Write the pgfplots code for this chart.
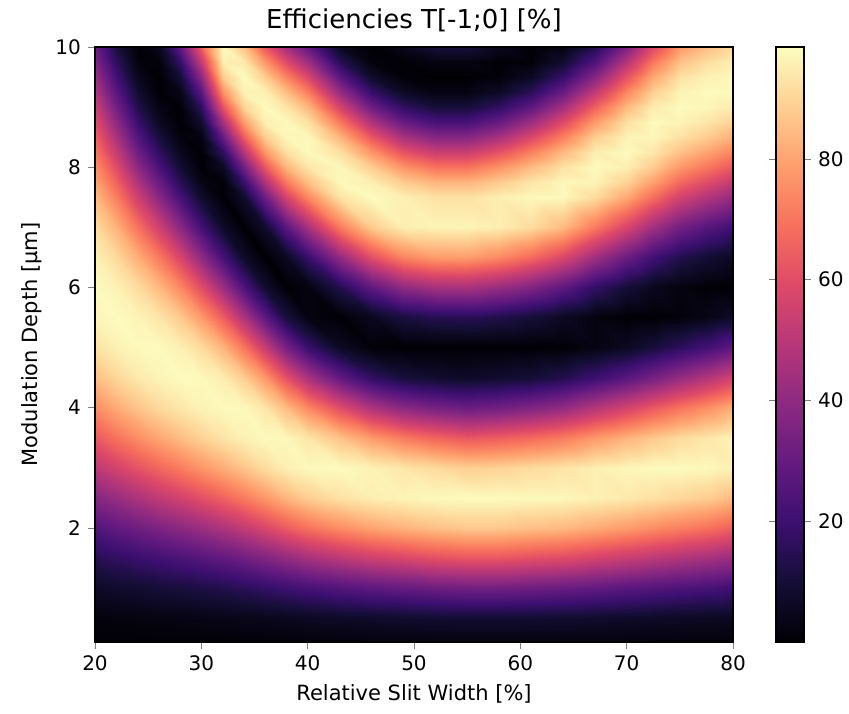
\documentclass[border=0pt]{standalone}
\usepackage{fontspec}
\setmainfont{DejaVu Sans}
\usepackage{pgfplots}
\pgfplotsset{compat=1.18}
\begin{document}
\begin{tikzpicture}
\begin{axis}[
  scale only axis,
  width=319pt, height=297.5pt,
  xmin=20, xmax=80, ymin=0.1, ymax=10,
  xtick={20,30,40,50,60,70,80},
  ytick={2,4,6,8,10},
  tick align=outside,
  tick pos=left,
  major tick length=3.5pt,
  axis on top,
  axis line style={line width=0.6pt},
  /pgf/number format/assume math mode=true,
  tick label style={font=\fontsize{10}{12}\selectfont},
  label style={font=\fontsize{10.5}{12}\selectfont},
  title={Efficiencies T[-1;0] [\%]},
  title style={font=\fontsize{13}{15}\selectfont, yshift=-2pt},
  xlabel={Relative Slit Width [\%]},
  ylabel={Modulation Depth [μm]},
  colormap={magma}{rgb255=(0,0,4) rgb255=(20,14,54) rgb255=(59,15,112) rgb255=(100,26,128) rgb255=(140,41,129) rgb255=(183,55,121) rgb255=(222,73,104) rgb255=(247,112,92) rgb255=(254,159,109) rgb255=(254,207,146) rgb255=(252,253,191)},
  point meta min=0, point meta max=98.5,
  colorbar,
  colorbar style={
    width=14pt,
    at={(parent axis.north east)}, anchor=north west, xshift=13pt,
    ytick={20,40,60,80},
    tick align=outside,
    major tick length=3.5pt,
    axis line style={line width=0.6pt},
    /pgf/number format/assume math mode=true,
    yticklabel style={font=\fontsize{10}{12}\selectfont},
  },
]
\addplot[surf, shader=interp, mesh/cols=25, point meta=explicit] coordinates {
(20,0)[0] (22,0)[0] (24,0)[0] (26,0)[0] (28,0)[0] (30,0)[0] (32,0)[0] (34,0)[0] (36,0)[0] (38,0)[0] (40,0)[0] (43,0)[0] (46,0)[0] (49,0)[0] (52,0)[0] (55,0)[0] (58,0)[0] (61,0)[0] (64,0)[0] (67,0)[0] (70,0)[0] (72.5,0)[0] (75,0)[0] (77.5,0)[0] (80,0)[0]
(20,0.5)[1.8] (22,0.5)[2.0] (24,0.5)[2.3] (26,0.5)[2.6] (28,0.5)[2.8] (30,0.5)[3.3] (32,0.5)[3.6] (34,0.5)[4.2] (36,0.5)[4.6] (38,0.5)[5.3] (40,0.5)[5.9] (43,0.5)[6.9] (46,0.5)[7.6] (49,0.5)[8.2] (52,0.5)[8.8] (55,0.5)[9.1] (58,0.5)[9.1] (61,0.5)[8.8] (64,0.5)[8.5] (67,0.5)[7.9] (70,0.5)[7.3] (72.5,0.5)[6.9] (75,0.5)[6.3] (77.5,0.5)[5.9] (80,0.5)[5.4]
(20,1)[6.9] (22,1)[7.9] (24,1)[8.9] (26,1)[10.0] (28,1)[11.1] (30,1)[12.3] (32,1)[13.7] (34,1)[15.5] (36,1)[17.6] (38,1)[20.0] (40,1)[22.3] (43,1)[25.3] (46,1)[27.8] (49,1)[29.7] (52,1)[31.7] (55,1)[32.8] (58,1)[32.8] (61,1)[31.7] (64,1)[30.6] (67,1)[28.8] (70,1)[26.9] (72.5,1)[25.3] (75,1)[23.8] (77.5,1)[22.3] (80,1)[20.6]
(20,1.5)[14.7] (22,1.5)[16.9] (24,1.5)[19.2] (26,1.5)[21.4] (28,1.5)[23.6] (30,1.5)[26.1] (32,1.5)[29.1] (34,1.5)[32.4] (36,1.5)[36.5] (38,1.5)[40.9] (40,1.5)[45.3] (43,1.5)[50.3] (46,1.5)[54.5] (49,1.5)[57.5] (52,1.5)[60.7] (55,1.5)[62.4] (58,1.5)[62.4] (61,1.5)[60.7] (64,1.5)[59.2] (67,1.5)[56.0] (70,1.5)[53.0] (72.5,1.5)[50.3] (75,1.5)[47.7] (77.5,1.5)[45.3] (80,1.5)[42.0]
(20,2)[25.2] (22,2)[28.8] (24,2)[32.3] (26,2)[35.7] (28,2)[39.0] (30,2)[42.8] (32,2)[47.1] (34,2)[52.0] (36,2)[57.5] (38,2)[63.7] (40,2)[69.2] (43,2)[74.9] (46,2)[79.5] (49,2)[82.6] (52,2)[85.4] (55,2)[87.1] (58,2)[87.1] (61,2)[85.4] (64,2)[84.1] (67,2)[81.1] (70,2)[78.0] (72.5,2)[74.9] (75,2)[71.9] (77.5,2)[69.2] (80,2)[65.0]
(20,2.5)[37.4] (22,2.5)[41.9] (24,2.5)[46.7] (26,2.5)[51.4] (28,2.5)[55.6] (30,2.5)[60.4] (32,2.5)[65.5] (34,2.5)[71.1] (36,2.5)[77.1] (38,2.5)[83.2] (40,2.5)[88.3] (43,2.5)[92.5] (46,2.5)[95.2] (49,2.5)[96.5] (52,2.5)[97.6] (55,2.5)[98.0] (58,2.5)[98.0] (61,2.5)[97.6] (64,2.5)[97.2] (67,2.5)[95.9] (70,2.5)[94.3] (72.5,2.5)[92.5] (75,2.5)[90.2] (77.5,2.5)[88.3] (80,2.5)[84.6]
(20,3)[50.2] (22,3)[56.1] (24,3)[61.5] (26,3)[66.7] (28,3)[71.4] (30,3)[76.6] (32,3)[81.5] (34,3)[86.6] (36,3)[91.4] (38,3)[95.4] (40,3)[97.5] (43,3)[98.0] (46,3)[96.2] (49,3)[93.6] (52,3)[91.2] (55,3)[88.8] (58,3)[89.6] (61,3)[91.4] (64,3)[93.1] (67,3)[95.6] (70,3)[97.1] (72.5,3)[98.0] (75,3)[98.0] (77.5,3)[97.5] (80,3)[95.9]
(20,3.5)[63.2] (22,3.5)[69.2] (24,3.5)[75.1] (26,3.5)[80.3] (28,3.5)[84.7] (30,3.5)[89.0] (32,3.5)[92.9] (34,3.5)[95.9] (36,3.5)[97.7] (38,3.5)[97.3] (40,3.5)[93.6] (43,3.5)[86.1] (46,3.5)[78.1] (49,3.5)[71.4] (52,3.5)[66.6] (55,3.5)[63.0] (58,3.5)[64.7] (61,3.5)[67.7] (64,3.5)[71.5] (67,3.5)[77.8] (70,3.5)[83.1] (72.5,3.5)[87.4] (75,3.5)[91.2] (77.5,3.5)[93.6] (80,3.5)[96.5]
(20,4)[74.9] (22,4)[81.1] (24,4)[86.3] (26,4)[90.7] (28,4)[93.6] (30,4)[96.3] (32,4)[97.7] (34,4)[97.5] (36,4)[93.5] (38,4)[85.0] (40,4)[74.2] (43,4)[59.9] (46,4)[47.4] (49,4)[39.0] (52,4)[34.5] (55,4)[31.2] (58,4)[33.3] (61,4)[36.5] (64,4)[41.1] (67,4)[49.0] (70,4)[56.6] (72.5,4)[63.5] (75,4)[69.9] (77.5,4)[75.4] (80,4)[82.2]
(20,4.5)[84.9] (22,4.5)[90.1] (24,4.5)[94.1] (26,4.5)[96.6] (28,4.5)[97.9] (30,4.5)[97.6] (32,4.5)[95.0] (34,4.5)[88.4] (36,4.5)[77.3] (38,4.5)[61.4] (40,4.5)[46.0] (43,4.5)[29.2] (46,4.5)[17.4] (49,4.5)[11.1] (52,4.5)[8.7] (55,4.5)[7.0] (58,4.5)[8.4] (61,4.5)[10.1] (64,4.5)[13.8] (67,4.5)[20.2] (70,4.5)[27.2] (72.5,4.5)[34.4] (75,4.5)[41.7] (77.5,4.5)[48.1] (80,4.5)[56.3]
(20,5)[92.5] (22,5)[95.9] (24,5)[97.7] (26,5)[97.8] (28,5)[95.8] (30,5)[91.2] (32,5)[82.9] (34,5)[69.8] (36,5)[52.9] (38,5)[33.9] (40,5)[18.8] (43,5)[6.2] (46,5)[1.0] (49,5)[0.0] (52,5)[0.2] (55,5)[0.3] (58,5)[0.1] (61,5)[0.0] (64,5)[0.4] (67,5)[2.4] (70,5)[5.7] (72.5,5)[10.5] (75,5)[15.9] (77.5,5)[21.1] (80,5)[28.0]
(20,5.5)[96.8] (22,5.5)[98.0] (24,5.5)[96.5] (26,5.5)[93.3] (28,5.5)[87.4] (30,5.5)[77.9] (32,5.5)[64.1] (34,5.5)[46.6] (36,5.5)[27.6] (38,5.5)[11.1] (40,5.5)[2.3] (43,5.5)[0.4] (46,5.5)[5.2] (49,5.5)[11.6] (52,5.5)[14.3] (55,5.5)[15.0] (58,5.5)[13.2] (61,5.5)[10.1] (64,5.5)[6.1] (67,5.5)[2.1] (70,5.5)[0.3] (72.5,5.5)[0.1] (75,5.5)[1.4] (77.5,5.5)[3.4] (80,5.5)[6.9]
(20,6)[97.8] (22,6)[96.1] (24,6)[91.2] (26,6)[84.0] (28,6)[73.9] (30,6)[59.9] (32,6)[42.4] (34,6)[23.9] (36,6)[8.3] (38,6)[0.4] (40,6)[2.3] (43,6)[13.8] (46,6)[28.5] (49,6)[40.4] (52,6)[45.5] (55,6)[46.2] (58,6)[42.3] (61,6)[36.5] (64,6)[28.2] (67,6)[17.6] (70,6)[10.0] (72.5,6)[5.0] (75,6)[2.0] (77.5,6)[0.7] (80,6)[0.1]
(20,6.5)[95.9] (22,6.5)[90.9] (24,6.5)[81.7] (26,6.5)[70.6] (28,6.5)[57.2] (30,6.5)[40.0] (32,6.5)[22.0] (34,6.5)[7.0] (36,6.5)[0.1] (38,6.5)[5.7] (40,6.5)[18.8] (43,6.5)[41.1] (46,6.5)[60.4] (49,6.5)[73.4] (52,6.5)[78.3] (55,6.5)[78.6] (58,6.5)[74.4] (61,6.5)[67.7] (64,6.5)[58.2] (67,6.5)[43.8] (70,6.5)[31.0] (72.5,6.5)[21.0] (75,6.5)[13.6] (77.5,6.5)[9.5] (80,6.5)[6.0]
(20,7)[91.4] (22,7)[82.7] (24,7)[69.0] (26,7)[54.9] (28,7)[39.0] (30,7)[21.7] (32,7)[7.0] (34,7)[0.1] (36,7)[8.0] (38,7)[27.2] (40,7)[46.0] (43,7)[71.5] (46,7)[87.9] (49,7)[95.3] (52,7)[96.5] (55,7)[96.6] (58,7)[95.3] (61,7)[91.4] (64,7)[84.6] (67,7)[71.0] (70,7)[57.0] (72.5,7)[44.0] (75,7)[33.0] (77.5,7)[26.7] (80,7)[20.7]
(20,7.5)[84.5] (22,7.5)[71.9] (24,7.5)[54.4] (26,7.5)[38.3] (28,7.5)[22.4] (30,7.5)[7.9] (32,7.5)[0.3] (34,7.5)[8.4] (36,7.5)[32.0] (38,7.5)[56.6] (40,7.5)[74.2] (43,7.5)[93.1] (46,7.5)[98.0] (49,7.5)[95.4] (52,7.5)[92.7] (55,7.5)[92.7] (58,7.5)[95.4] (61,7.5)[97.6] (64,7.5)[97.6] (67,7.5)[91.4] (70,7.5)[80.6] (72.5,7.5)[68.3] (75,7.5)[56.0] (77.5,7.5)[48.5] (80,7.5)[41.1]
(20,7.75)[80.2] (22,7.75)[65.8] (24,7.75)[46.7] (26,7.75)[30.5] (28,7.75)[15.2] (30,7.75)[3.4] (32,7.75)[0.9] (34,7.75)[19.2] (36,7.75)[47.4] (38,7.75)[70.8] (40,7.75)[85.6] (43,7.75)[97.5] (46,7.75)[95.5] (49,7.75)[87.8] (52,7.75)[83.1] (55,7.75)[83.1] (58,7.75)[87.8] (61,7.75)[93.3] (64,7.75)[97.2] (67,7.75)[96.5] (70,7.75)[89.5] (72.5,7.75)[78.9] (75,7.75)[67.1] (77.5,7.75)[59.8] (80,7.75)[52.4]
(20,8)[75.4] (22,8)[59.5] (24,8)[39.0] (26,8)[23.1] (28,8)[9.4] (30,8)[0.7] (32,8)[6.5] (34,8)[33.3] (36,8)[62.9] (38,8)[83.1] (40,8)[93.6] (43,8)[97.1] (46,8)[88.2] (49,8)[76.4] (52,8)[69.6] (55,8)[69.6] (58,8)[76.4] (61,8)[84.6] (64,8)[92.6] (67,8)[98.0] (70,8)[95.5] (72.5,8)[88.1] (75,8)[77.4] (77.5,8)[70.6] (80,8)[63.2]
(20,8.25)[70.4] (22,8.25)[53.0] (24,8.25)[31.9] (26,8.25)[16.5] (28,8.25)[4.8] (30,8.25)[0.1] (32,8.25)[16.8] (34,8.25)[49.0] (36,8.25)[77.0] (38,8.25)[92.1] (40,8.25)[97.6] (43,8.25)[92.1] (46,8.25)[77.0] (49,8.25)[61.6] (52,8.25)[53.9] (55,8.25)[53.9] (58,8.25)[61.6] (61,8.25)[72.5] (64,8.25)[84.2] (67,8.25)[95.3] (70,8.25)[97.9] (72.5,8.25)[93.9] (75,8.25)[85.9] (77.5,8.25)[80.0] (80,8.25)[73.4]
(20,8.5)[65.0] (22,8.5)[46.3] (24,8.5)[25.0] (26,8.5)[10.9] (28,8.5)[1.8] (30,8.5)[2.4] (32,8.5)[30.4] (34,8.5)[64.7] (36,8.5)[88.2] (38,8.5)[97.1] (40,8.5)[97.2] (43,8.5)[83.1] (46,8.5)[62.9] (49,8.5)[45.7] (52,8.5)[37.6] (55,8.5)[37.6] (58,8.5)[45.7] (61,8.5)[58.2] (64,8.5)[72.6] (67,8.5)[88.4] (70,8.5)[96.5] (72.5,8.5)[97.4] (75,8.5)[92.6] (77.5,8.5)[88.2] (80,8.5)[82.3]
(20,8.75)[59.4] (22,8.75)[39.8] (24,8.75)[18.7] (26,8.75)[6.2] (28,8.75)[0.3] (30,8.75)[8.1] (32,8.75)[45.8] (34,8.75)[78.8] (36,8.75)[95.5] (38,8.75)[97.5] (40,8.75)[92.4] (43,8.75)[70.8] (46,8.75)[47.4] (49,8.75)[30.2] (52,8.75)[22.7] (55,8.75)[22.7] (58,8.75)[30.2] (61,8.75)[42.8] (64,8.75)[59.1] (67,8.75)[78.2] (70,8.75)[92.3] (72.5,8.75)[97.8] (75,8.75)[96.5] (77.5,8.75)[93.7] (80,8.75)[89.5]
(20,9)[53.9] (22,9)[33.4] (24,9)[13.0] (26,9)[2.8] (28,9)[0.6] (30,9)[16.3] (32,9)[61.8] (34,9)[89.6] (36,9)[98.0] (38,9)[93.4] (40,9)[83.7] (43,9)[56.6] (46,9)[32.0] (49,9)[17.0] (52,9)[10.6] (55,9)[10.6] (58,9)[17.0] (61,9)[28.2] (64,9)[44.7] (67,9)[65.7] (70,9)[84.5] (72.5,9)[95.1] (75,9)[98.0] (77.5,9)[97.1] (80,9)[95.1]
(20,9.25)[48.1] (22,9.25)[27.3] (24,9.25)[8.4] (26,9.25)[0.7] (28,9.25)[3.9] (30,9.25)[26.9] (32,9.25)[76.2] (34,9.25)[96.2] (36,9.25)[95.5] (38,9.25)[85.2] (40,9.25)[71.7] (43,9.25)[41.4] (46,9.25)[18.5] (49,9.25)[6.7] (52,9.25)[2.7] (55,9.25)[2.7] (58,9.25)[6.7] (61,9.25)[15.5] (64,9.25)[30.6] (67,9.25)[51.9] (70,9.25)[74.1] (72.5,9.25)[89.1] (75,9.25)[96.5] (77.5,9.25)[97.9] (80,9.25)[97.5]
(20,9.5)[42.2] (22,9.5)[21.6] (24,9.5)[4.6] (26,9.5)[0.0] (28,9.5)[9.7] (30,9.5)[38.8] (32,9.5)[88.2] (34,9.5)[98.0] (36,9.5)[88.2] (38,9.5)[73.4] (40,9.5)[58.0] (43,9.5)[27.2] (46,9.5)[8.0] (49,9.5)[0.9] (52,9.5)[0.0] (55,9.5)[0.0] (58,9.5)[0.9] (61,9.5)[6.1] (64,9.5)[18.2] (67,9.5)[37.7] (70,9.5)[62.0] (72.5,9.5)[80.8] (75,9.5)[92.6] (77.5,9.5)[96.0] (80,9.5)[97.7]
(20,9.75)[36.6] (22,9.75)[16.3] (24,9.75)[2.0] (26,9.75)[1.4] (28,9.75)[18.1] (30,9.75)[51.7] (32,9.75)[95.4] (34,9.75)[94.2] (36,9.75)[77.0] (38,9.75)[59.5] (40,9.75)[43.1] (43,9.75)[14.9] (46,9.75)[1.7] (49,9.75)[0.4] (52,9.75)[2.7] (55,9.75)[2.7] (58,9.75)[0.4] (61,9.75)[0.9] (64,9.75)[8.5] (67,9.75)[24.6] (70,9.75)[49.0] (72.5,9.75)[70.6] (75,9.75)[85.9] (77.5,9.75)[91.7] (80,9.75)[95.6]
(20,10)[31.1] (22,10)[11.8] (24,10)[0.4] (26,10)[5.1] (28,10)[28.5] (30,10)[64.3] (32,10)[98.0] (34,10)[85.7] (36,10)[62.9] (38,10)[44.5] (40,10)[29.0] (43,10)[5.7] (46,10)[0.1] (49,10)[5.0] (52,10)[10.6] (55,10)[10.6] (58,10)[5.0] (61,10)[0.4] (64,10)[2.1] (67,10)[13.4] (70,10)[35.9] (72.5,10)[58.9] (75,10)[77.4] (77.5,10)[85.0] (80,10)[90.9]
};
\end{axis}
\pgfresetboundingbox
\path[use as bounding box] ([xshift=-47.5pt,yshift=-36pt]current axis.south west) rectangle ([xshift=58pt,yshift=23.5pt]current axis.north east);
\end{tikzpicture}
\end{document}
